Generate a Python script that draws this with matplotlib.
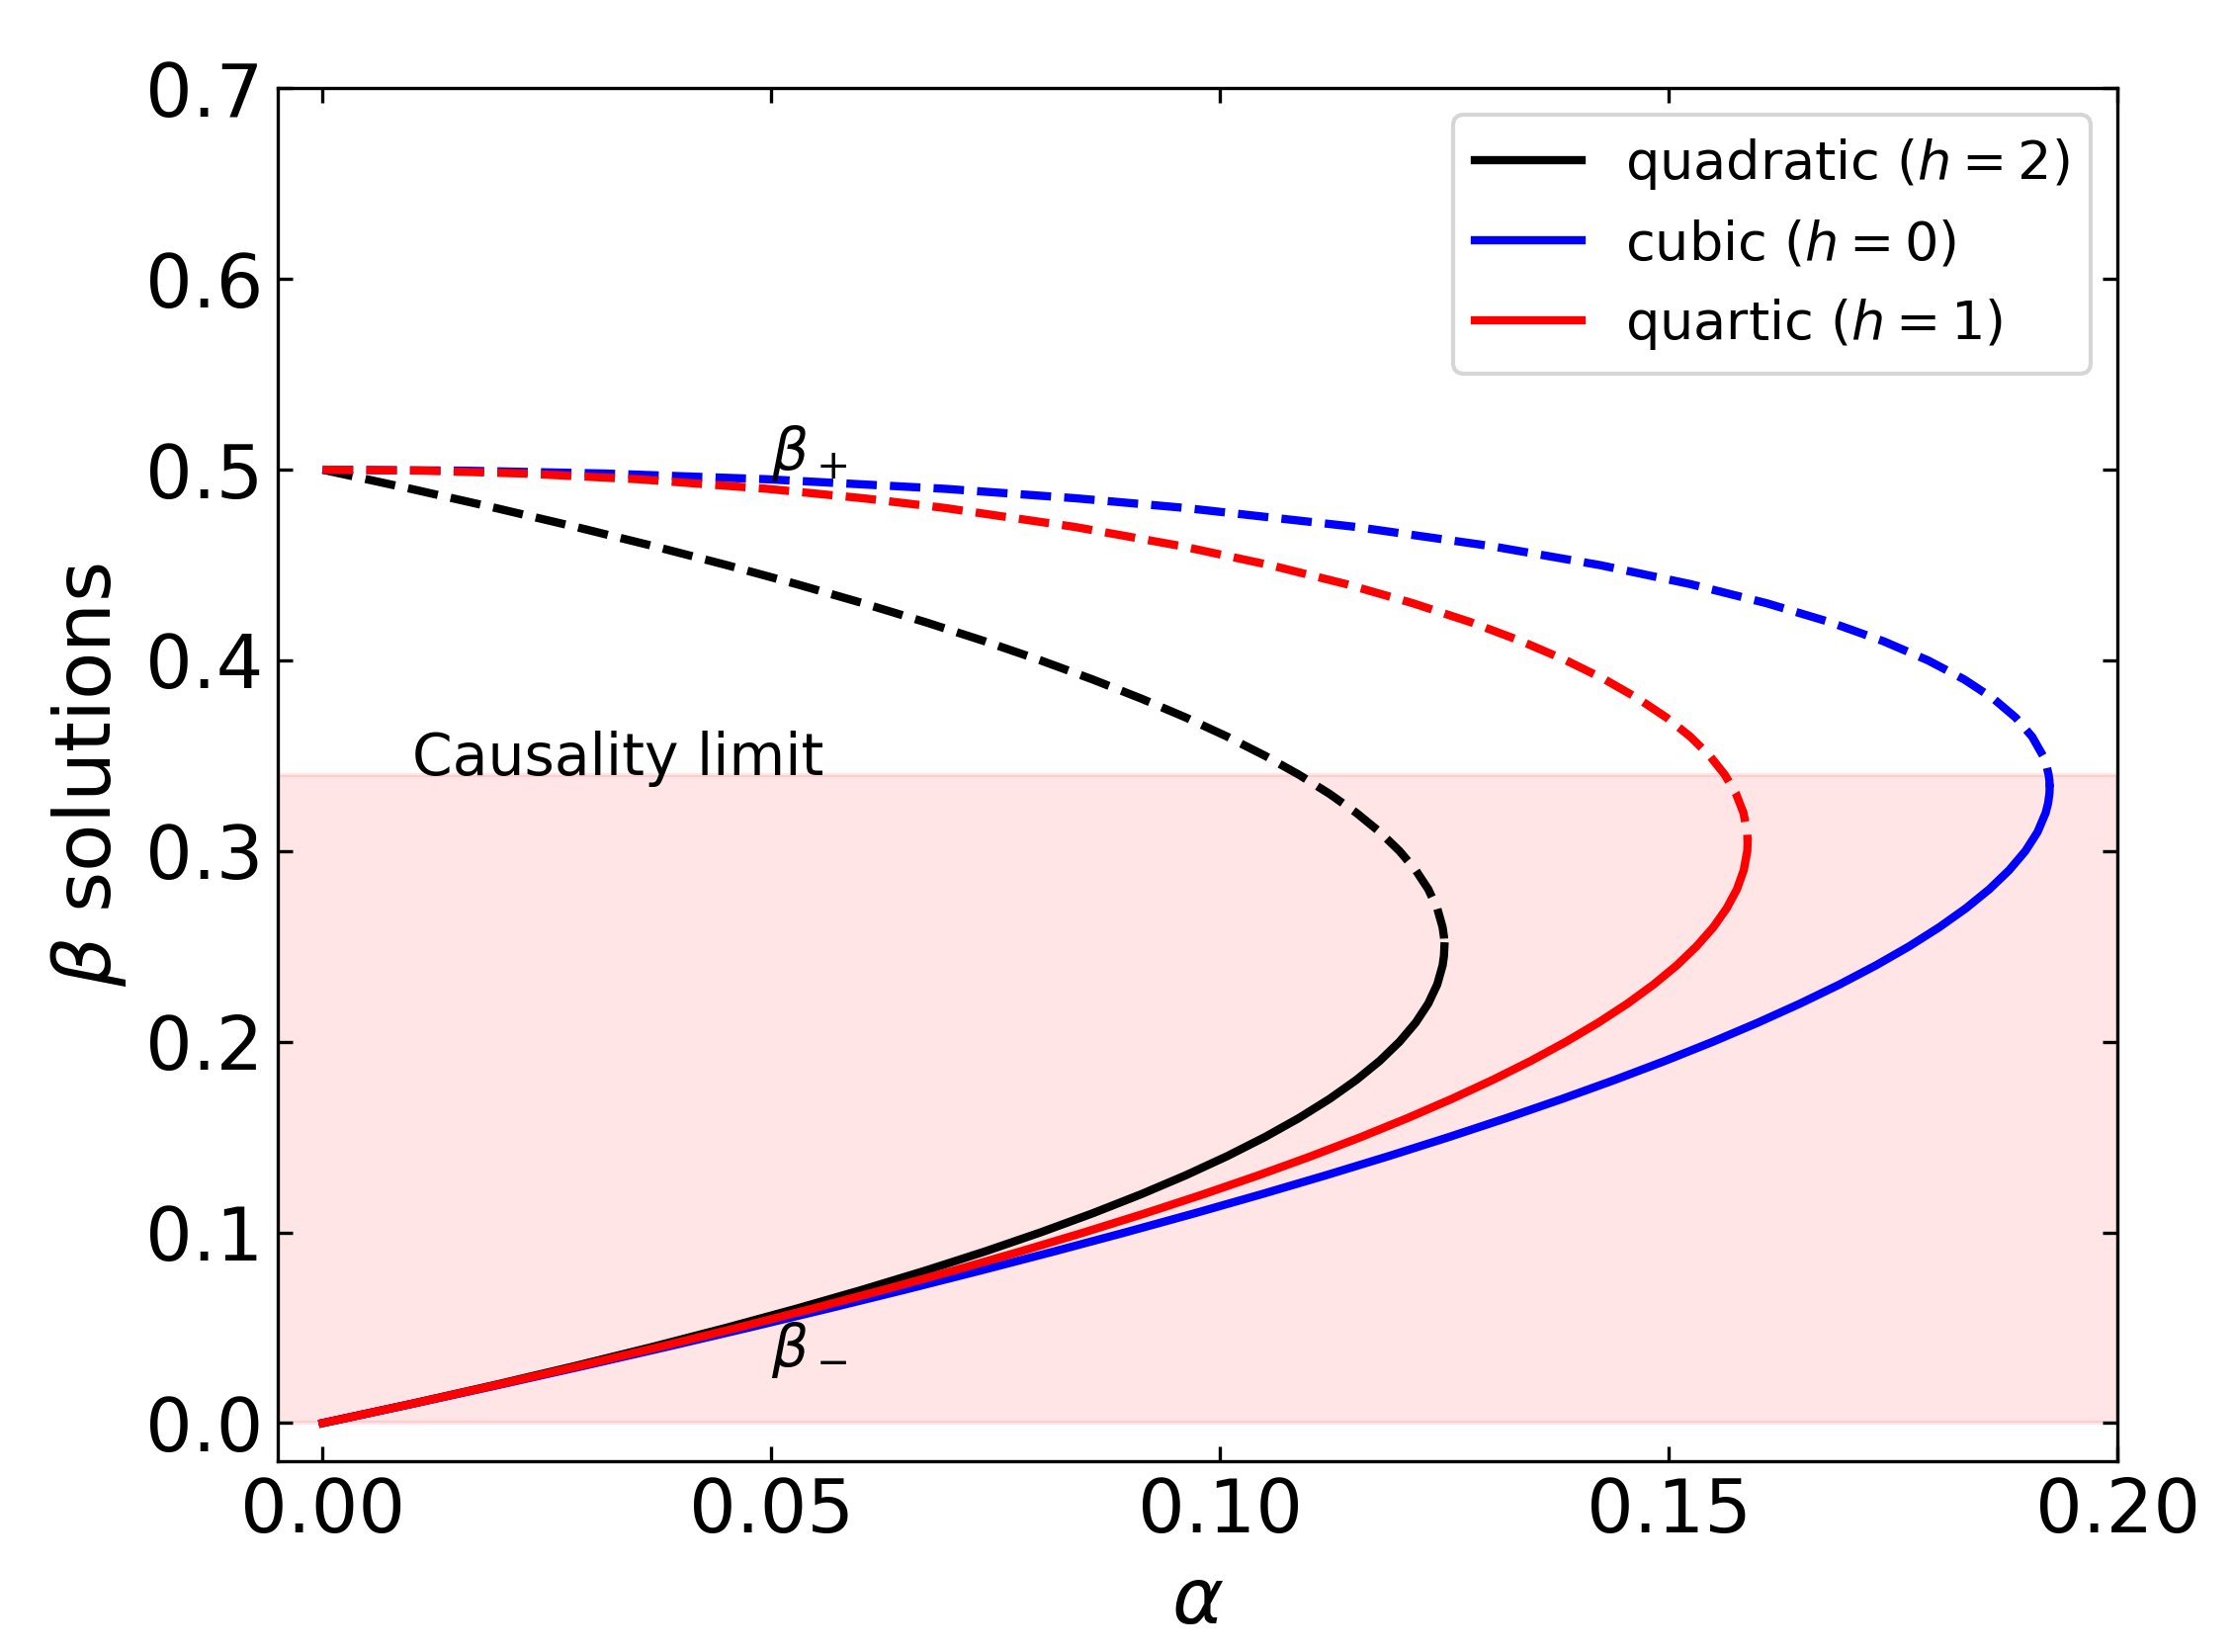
import matplotlib
matplotlib.use("Agg")
import matplotlib.pyplot as plt

# ---- data (alpha as a function of beta) ----
quad_beta = [0.00, 0.01, 0.02, 0.03, 0.04, 0.05, 0.06, 0.07, 0.08, 0.09, 0.10, 0.11,
             0.12, 0.13, 0.14, 0.15, 0.16, 0.17, 0.18, 0.19, 0.20, 0.21, 0.22, 0.23,
             0.24, 0.245, 0.25, 0.255, 0.26, 0.27, 0.28, 0.29, 0.30, 0.31, 0.32, 0.33,
             0.34, 0.35, 0.36, 0.37, 0.38, 0.39, 0.40, 0.41, 0.42, 0.43, 0.44, 0.45,
             0.46, 0.47, 0.48, 0.49, 0.50]
quad_alpha = [0, 0.0098, 0.0192, 0.0282, 0.0368, 0.045, 0.0528, 0.0602, 0.0672, 0.0738,
              0.08, 0.0858, 0.0912, 0.0962, 0.1008, 0.105, 0.1088, 0.1122, 0.1152,
              0.1178, 0.12, 0.1218, 0.1232, 0.1242, 0.1248, 0.12495, 0.125, 0.12495,
              0.1248, 0.1242, 0.1232, 0.1218, 0.12, 0.1178, 0.1152, 0.1122, 0.1088,
              0.105, 0.1008, 0.0962, 0.0912, 0.0858, 0.08, 0.0738, 0.0672, 0.0602,
              0.0528, 0.045, 0.0368, 0.0282, 0.0192, 0.0098, 0]
quad_turn = 0.25

cubic_beta = [0.00, 0.01, 0.02, 0.03, 0.04, 0.05, 0.06, 0.07, 0.08, 0.09, 0.10, 0.11,
              0.12, 0.13, 0.14, 0.15, 0.16, 0.17, 0.18, 0.19, 0.20, 0.21, 0.22, 0.23,
              0.24, 0.25, 0.26, 0.27, 0.28, 0.29, 0.30, 0.31, 0.32, 0.325, 0.33, 0.3333,
              0.337, 0.34, 0.345, 0.35, 0.36, 0.37, 0.38, 0.39, 0.40, 0.41, 0.42, 0.43,
              0.44, 0.45, 0.46, 0.47, 0.48, 0.485, 0.49, 0.495, 0.498, 0.4995, 0.5]
cubic_alpha = [0, 0.00990, 0.01960, 0.02909, 0.03837, 0.04743, 0.05628, 0.06492,
               0.07332, 0.08150, 0.08944, 0.09715, 0.10461, 0.11183, 0.11879, 0.12550,
               0.13194, 0.13811, 0.14400, 0.14961, 0.15492, 0.15993, 0.16463, 0.16902,
               0.17307, 0.17678, 0.18013, 0.18312, 0.18573, 0.18794, 0.18974, 0.19110,
               0.19200, 0.19227, 0.19242, 0.19245, 0.19242, 0.19233, 0.19209, 0.19170,
               0.19049, 0.18866, 0.18616, 0.18293, 0.17889, 0.17395, 0.16800, 0.16089,
               0.15242, 0.14230, 0.13011, 0.11513, 0.09600, 0.08400, 0.06930, 0.04950,
               0.03150, 0.01580, 0]
cubic_turn = 0.3333

quart_beta = [0.00, 0.01, 0.02, 0.03, 0.04, 0.05, 0.06, 0.07, 0.08, 0.09, 0.10, 0.11,
              0.12, 0.13, 0.14, 0.15, 0.16, 0.17, 0.18, 0.19, 0.20, 0.21, 0.22, 0.23,
              0.24, 0.25, 0.26, 0.27, 0.28, 0.29, 0.30, 0.305, 0.31, 0.32, 0.33, 0.34,
              0.35, 0.36, 0.37, 0.38, 0.39, 0.40, 0.41, 0.42, 0.43, 0.44, 0.45, 0.46,
              0.47, 0.48, 0.485, 0.49, 0.495, 0.498, 0.4995, 0.5]
quart_alpha = [0, 0.00985, 0.01940, 0.02865, 0.03759, 0.04623, 0.05457, 0.06260,
               0.07033, 0.07775, 0.08485, 0.09165, 0.09814, 0.10431, 0.11017, 0.11570,
               0.12092, 0.12582, 0.13040, 0.13465, 0.13856, 0.14215, 0.14540, 0.14831,
               0.15088, 0.15309, 0.15496, 0.15646, 0.15760, 0.15836, 0.15875, 0.15879,
               0.15874, 0.15833, 0.15750, 0.15625, 0.15456, 0.15240, 0.14975, 0.14658,
               0.14287, 0.13856, 0.13361, 0.12795, 0.12147, 0.11406, 0.10553, 0.09561,
               0.08381, 0.06923, 0.06029, 0.04949, 0.03518, 0.02232, 0.01118, 0]
quart_turn = 0.305

labels = [r"quadratic ($h=2$)", r"cubic ($h=0$)", r"quartic ($h=1$)"]
colors = ["black", "blue", "red"]
causality_limit = 0.34

x_ticks = [0.00, 0.05, 0.10, 0.15, 0.20]
y_ticks = [0.0, 0.1, 0.2, 0.3, 0.4, 0.5, 0.6, 0.7]

# ---- figure ----
fig = plt.figure(figsize=(2261 / 300, 1671 / 300), dpi=300)
ax = fig.add_axes([0.1243, 0.1155, 0.9474 - 0.1243, 0.9465 - 0.1155])

ax.axhspan(0, causality_limit, color="red", alpha=0.1)

models = [(quad_beta, quad_alpha, quad_turn),
          (cubic_beta, cubic_alpha, cubic_turn),
          (quart_beta, quart_alpha, quart_turn)]

for (beta, alpha, turn), color, label in zip(models, colors, labels):
    assert len(beta) == len(alpha)
    lo_a = [a for a, b in zip(alpha, beta) if b <= turn]
    lo_b = [b for b in beta if b <= turn]
    hi_a = [a for a, b in zip(alpha, beta) if b >= turn][::-1]
    hi_b = [b for b in beta if b >= turn][::-1]
    ax.plot(lo_a, lo_b, color=color, lw=2.0, label=label, solid_joinstyle="round")
    ax.plot(hi_a, hi_b, "--", color=color, lw=2.0, dash_joinstyle="round")

ax.text(0.01, causality_limit, "Causality limit", fontsize=14)
ax.text(0.05, 0.50, r"$\beta_+$", fontsize=14)
ax.text(0.05, 0.03, r"$\beta_-$", fontsize=14)

ax.set_xlim(-0.005, 0.2)
ax.set_ylim(-0.02, 0.7)
ax.set_xticks(x_ticks)
ax.set_yticks(y_ticks)
ax.tick_params(direction="in", top=True, right=True, labelsize=18)
ax.set_xlabel(r"$\alpha$", fontsize=19)
ax.set_ylabel(r"$\beta$ solutions", fontsize=19)

ax.legend(loc="upper right", fontsize=13)

fig.savefig("out.png", dpi=300)
